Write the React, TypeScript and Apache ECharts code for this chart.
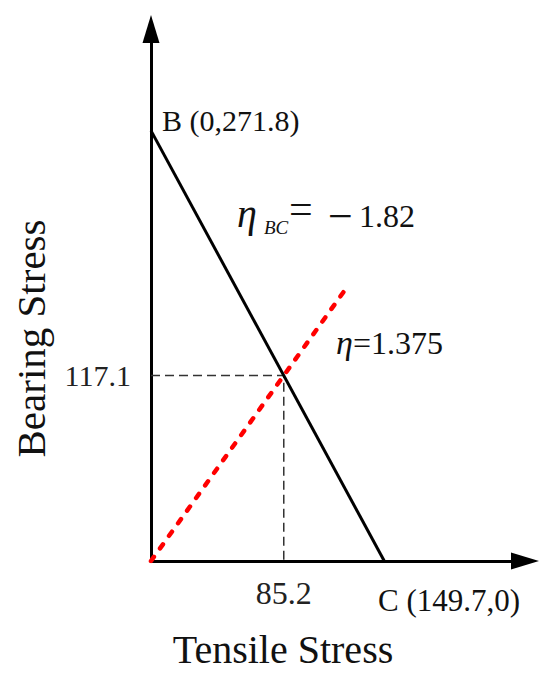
import React, { useEffect, useRef } from 'react';
import * as echarts from 'echarts';

// Data (stress units)
const LINE_BC: [number, number][] = [[0, 271.8], [149.7, 0]];
const ETA_LINE: [number, number][] = [[0, 0], [124.5, 171.2]];
const GUIDE: [number, number][] = [[0, 117.1], [85.2, 117.1], [85.2, 0]];
const X_TICKS = [85.2];
const Y_TICKS = [117.1];
const X_MAX = 240;
const Y_MAX = 336;
const LABEL_B = 'B (0,271.8)';
const LABEL_C = 'C (149.7,0)';
const ETA_BC_VALUE = '1.82';
const ETA_VALUE = '=1.375';
const X_NAME = 'Tensile Stress';
const Y_NAME = 'Bearing Stress';

const SERIF = 'Liberation Serif';

function txt(x: number, y: number, text: string, size: number, opts: any = {}) {
  return {
    type: 'text',
    x,
    y,
    rotation: opts.rotation || 0,
    style: {
      text,
      fill: '#111',
      fontSize: size,
      fontFamily: SERIF,
      fontStyle: opts.italic ? 'italic' : 'normal',
      align: opts.align || 'left',
      textAlign: opts.align || 'left',
      verticalAlign: 'middle',
      textVerticalAlign: 'middle',
    },
  };
}

export default function App() {
  const ref = useRef<HTMLDivElement>(null);
  useEffect(() => {
    if (!ref.current) return;
    const chart = echarts.init(ref.current, null, { renderer: 'svg' });
    const axisCommon = {
      type: 'value',
      splitLine: { show: false },
      axisTick: { show: false },
      axisLine: {
        show: true,
        onZero: false,
        symbol: ['none', 'triangle'],
        symbolSize: [17, 28],
        lineStyle: { color: '#000', width: 3 },
      },
    };
    chart.setOption({
      animation: false,
      backgroundColor: '#fff',
      grid: { left: 151, right: 25, top: 29, bottom: 113, outerBoundsMode: 'none' },
      xAxis: {
        ...axisCommon,
        min: 0,
        max: X_MAX,
        axisLabel: {
          customValues: X_TICKS,
          formatter: (v: number) => v.toFixed(1),
          fontFamily: SERIF,
          fontSize: 32,
          color: '#222',
          margin: 16,
        },
      },
      yAxis: {
        ...axisCommon,
        min: 0,
        max: Y_MAX,
        axisLabel: {
          customValues: Y_TICKS,
          formatter: (v: number) => v.toFixed(1),
          fontFamily: SERIF,
          fontSize: 30,
          color: '#222',
          margin: 20,
        },
      },
      series: [
        {
          type: 'line',
          data: GUIDE,
          symbol: 'none',
          silent: true,
          lineStyle: { color: '#333', width: 1.5, type: [9, 5] },
          z: 1,
        },
        {
          type: 'line',
          data: LINE_BC,
          symbol: 'none',
          lineStyle: { color: '#000', width: 3 },
          z: 3,
        },
        {
          type: 'line',
          data: ETA_LINE,
          symbol: 'none',
          lineStyle: { color: '#f00', width: 4.5, type: [5, 10.5], cap: 'round' },
          z: 2,
        },
      ],
      graphic: [
        txt(162, 120, LABEL_B, 30),
        txt(378, 600, LABEL_C, 31),
        txt(237, 213, 'η', 40, { italic: true }),
        txt(264, 227, 'BC', 19, { italic: true }),
        txt(289, 209, '=', 42),
        txt(328, 216, '−', 44),
        txt(359, 216, ETA_BC_VALUE, 32),
        txt(336, 342, 'η', 34, { italic: true }),
        txt(353, 343, ETA_VALUE, 32),
        txt(283, 649.5, X_NAME, 40, { align: 'center' }),
        txt(31, 338.5, Y_NAME, 41, { align: 'center', rotation: Math.PI / 2 }),
      ],
    });
    return () => chart.dispose();
  }, []);
  return (
    <div
      ref={ref}
      style={{ position: 'absolute', left: 0, top: 0, width: 550, height: 674, background: '#fff' }}
    />
  );
}
